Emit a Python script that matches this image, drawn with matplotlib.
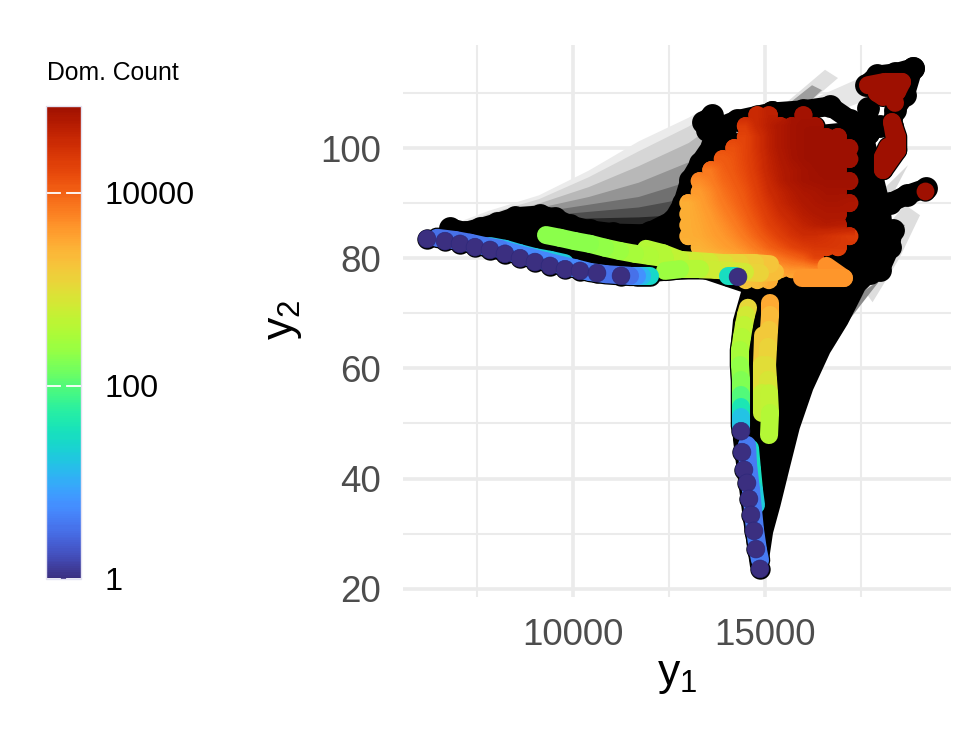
import numpy as np
import matplotlib
matplotlib.use('Agg')
import matplotlib.pyplot as plt
from matplotlib.collections import LineCollection
from matplotlib.colors import ListedColormap, LogNorm
from matplotlib.cm import ScalarMappable
from matplotlib.path import Path
from matplotlib.transforms import IdentityTransform

plt.rcParams['font.family'] = ['Liberation Sans', 'DejaVu Sans']
plt.rcParams['mathtext.fontset'] = 'custom'
plt.rcParams['mathtext.rm'] = 'Liberation Sans'
plt.rcParams['mathtext.it'] = 'Liberation Sans'

na = np.nan

# grey fan above the left arm, one row of tops per grey level
fan_x = [6500, 7800, 9100, 10400, 11700, 13000, 13700]
fan_bottom = [84, 84, 84, 84, 84, 84, 84]
fan_greys = [0.92, 0.84, 0.72, 0.58, 0.44, 0.3, 0.15]
fan_tops = [
    [85.3, 88.7, 91.5, 96.0, 101.3, 105.6, 108.3],
    [85.1, 88.2, 90.8, 94.8, 99.5, 104.0, 107.0],
    [85.0, 87.7, 90.0, 93.0, 96.8, 101.0, 104.5],
    [84.9, 87.2, 89.2, 91.2, 93.8, 97.5, 101.0],
    [84.7, 86.8, 88.4, 89.8, 91.2, 94.0, 98.0],
    [84.5, 86.5, 87.7, 88.5, 89.3, 91.0, 95.0],
    [84.3, 86.0, 87.0, 87.3, 87.5, 88.0, 92.0],
]

# other grey strips
strip_greys = [0.88, 0.62, 0.9, 0.87, 0.6, 0.3, 0.85, 0.55]
strip_x = [
    [15260, 16562, 16900, 15781],
    [15338, 16224, 16484, 15781],
    [16172, 17473, 17786, 16822],
    [18645, 19036, 18500, 17800, 17213],
    [18385, 18645, 18000, 17500, 17300],
    [18000, 18200, 17800, 17450, 17300],
    [17786, 18723, 18385, 17994],
    [17994, 17213, 16692, 17604],
]
strip_y = [
    [106.5, 114.2, 112.7, 106.0],
    [106.5, 111.4, 110.5, 106.0],
    [108.7, 112.7, 109.1, 106.5],
    [89.7, 87.8, 80.0, 72.0, 77.8],
    [86.9, 86.0, 79.0, 73.5, 77.0],
    [83.0, 82.0, 76.5, 73.5, 77.0],
    [90.5, 96.9, 92.4, 89.7],
    [76.0, 69.0, 62.8, 74.2],
]

# solid black area
black_x = [6537, 9141, 12786, 13177, 13828, 17734, 18255, 18333, 18255, 17864, 17604, 17150, 16692,
           16250, 15900, 15651, 15400, 15208, 15078, 14739, 14609, 14427, 14166, 14088, 14166,
           14375, 13307, 11745, 10443, 6406]
black_y = [84.6, 86.6, 86.0, 96.0, 102.4, 105.1, 90.0, 85.1, 82.0, 76.0, 74.2, 68.0, 62.8,
           56.1, 49.0, 42.1, 35.0, 30.1, 24.0, 22.5, 24.0, 32.5, 47.0, 62.8, 68.8,
           73.9, 76.4, 75.5, 76.0, 82.2]

# black chains along the edge of the cloud
edge_x = [
    [6797, 7188, 7578, 8021, 8490, 9141, 9531, 9922, 10443, 11042, 11562, 12005,
     12604, 12864, 13047, 13307, 13620, 13958],
    [13385, 13620, 13489, 13750, 14271, 15182],
    [15182, 15989, 16692, 17213, 17682, 18000],
    [17682, 17682],
    [18854, 18385, 17916, 17630],
    [18854, 18645, 18385, 18300],
    [19192, 18697, 18255, 17916],
    [18333, 18255, 17994, 17734, 17473],
    [17656, 17734, 17734],
]
edge_y = [
    [85.5, 84.8, 85.5, 86.4, 87.5, 87.8, 87.3, 86.0, 85.1, 84.6, 83.8, 84.8,
     86.9, 90.0, 94.2, 97.3, 100.5, 102.4],
    [104.7, 106.0, 103.3, 103.6, 105.1, 106.5],
    [106.5, 106.9, 107.6, 105.1, 102.7, 104.0],
    [107.3, 102.7],
    [114.5, 113.6, 113.2, 111.4],
    [114.5, 109.6, 106.9, 104.0],
    [92.7, 91.5, 90.0, 88.7],
    [85.1, 82.0, 77.9, 77.3, 78.8],
    [85.7, 91.1, 94.2],
]

# central cloud: log10 of the count on a grid
cloud_x = [13000, 13300, 13600, 13900, 14200, 14500, 14800, 15100,
           15400, 15700, 16000, 16300, 16600, 16900, 17200]
cloud_y = [106, 104, 102, 100, 98, 96, 94, 92, 90, 88, 86, 84, 82, 80, 78, 76]
cloud_log = [
    [na, na, na, na, na, na, 4.55, 4.65, na, na, 4.85, na, na, na, na],
    [na, na, na, na, na, 4.35, 4.55, 4.68, 4.78, 4.85, 4.88, 4.88, na, na, na],
    [na, na, na, na, na, 4.25, 4.45, 4.65, 4.78, 4.85, 4.88, 4.90, 4.90, 4.90, na],
    [na, na, na, na, 4.15, 4.25, 4.45, 4.65, 4.78, 4.85, 4.88, 4.90, 4.90, 4.90, 4.90],
    [na, na, na, 4.05, 4.12, 4.25, 4.42, 4.62, 4.75, 4.84, 4.88, 4.90, 4.90, 4.90, 4.90],
    [na, na, 3.85, 4.00, 4.10, 4.22, 4.40, 4.60, 4.72, 4.80, 4.85, 4.88, 4.90, 4.90, na],
    [na, 3.70, 3.80, 3.95, 4.05, 4.18, 4.35, 4.55, 4.70, 4.80, 4.85, 4.87, 4.88, 4.88, 4.88],
    [na, 3.60, 3.72, 3.88, 4.00, 4.12, 4.30, 4.50, 4.62, 4.72, 4.80, 4.82, 4.85, 4.85, na],
    [3.45, 3.55, 3.68, 3.82, 3.95, 4.08, 4.25, 4.42, 4.58, 4.68, 4.75, 4.80, 4.82, 4.82, 4.80],
    [3.45, 3.52, 3.62, 3.75, 3.88, 4.02, 4.18, 4.35, 4.50, 4.60, 4.70, 4.75, 4.78, 4.78, na],
    [3.45, 3.50, 3.58, 3.68, 3.80, 3.95, 4.10, 4.28, 4.40, 4.52, 4.62, 4.68, 4.72, 4.70, na],
    [3.45, 3.48, 3.55, 3.62, 3.72, 3.85, 4.00, 4.15, 4.30, 4.42, 4.50, 4.50, 4.45, 4.40, 4.35],
    [na, 3.42, 3.48, 3.55, 3.62, 3.72, 3.85, 4.00, 4.12, 4.25, 4.35, 4.40, 4.40, 4.38, na],
    [na, 3.35, 3.35, 3.40, 3.45, 3.55, 3.65, 3.75, 3.85, 3.95, 4.05, 4.25, na, na, na],
    [na, na, na, na, na, 3.30, 3.40, 3.50, 3.60, 3.65, 3.65, 3.70, 3.70, na, na],
    [na, na, na, na, na, 3.25, 3.30, 3.45, na, na, na, na, na, na, na],
]

# coloured trails: blue and teal of the left arm, green band, low band,
# left column, right column, spur, blue and teal of the lower arm, red clusters, orange wing
trail_x = [
    [6459, 6927, 7318, 7708, 8099, 8490, 8880, 9271, 9661, 10052, 10443, 10859, 11484, 11667],
    [7839, 8229, 8620, 9010, 9401, 9792],
    [11667, 11797, 12005],
    [9297, 9661, 10052, 10443, 10833, 11224, 11614, 12005, 12396, 12786, 13177, 13567,
     13958, 14349, 14739, 15130],
    [11901, 12344, 12786],
    [12396, 12786, 13307, 13698, 14479, 14870, 15260],
    [14036, 14218],
    [14375, 14375, 14375, 14375, 14375, 14349, 14349, 14401, 14453, 14505, 14557],
    [15104, 15130, 15104, 15078, 15052, 15078, 15104, 15130, 15130, 15130],
    [14922, 14922, 14922, 14950],
    [14531, 14557, 14635, 14687, 14739, 14817, 14870],
    [14609, 14661, 14713, 14765],
    [17682, 18124, 18567, 18437, 18072, 17916, 18203, 18385],
    [18307, 18437, 18437, 18203, 18072, 18072],
    [18307, 18437, 18072],
    [15950, 16400, 17050],
    [16600, 17050],
]
trail_y = [
    [83.7, 83.3, 82.8, 82.2, 81.7, 80.9, 80.2, 79.5, 78.8, 78.2, 77.5, 77.1, 76.8, 76.8],
    [82.2, 81.7, 80.9, 80.2, 79.7, 79.1],
    [76.8, 76.8, 76.8],
    [84.2, 83.7, 83.1, 82.6, 81.9, 81.3, 80.8, 80.4, 80.0, 79.7, 79.5, 79.3,
     79.1, 79.1, 79.1, 78.9],
    [81.7, 80.9, 79.7],
    [77.7, 78.0, 78.0, 77.9, 77.5, 77.3, 77.5],
    [76.8, 76.8],
    [49.5, 51.2, 53.0, 55.2, 57.9, 60.6, 63.3, 65.7, 67.9, 69.7, 71.0],
    [47.9, 51.9, 55.5, 57.9, 60.6, 63.9, 67.0, 69.7, 71.9, 71.9],
    [51.9, 55.5, 60.6, 66.0],
    [46.1, 42.5, 37.9, 34.3, 30.7, 27.0, 25.2],
    [45.5, 41.6, 37.9, 35.2],
    [111.4, 112.0, 112.0, 110.2, 109.3, 110.0, 111.4, 108.2],
    [104.7, 102.0, 99.6, 100.2, 98.4, 96.0],
    [104.7, 99.6, 96.0],
    [76.4, 76.4, 76.4],
    [78.6, 76.4],
]
# one value per segment
trail_log = [
    [.5, .5, .6, .6, .7, .7, .7, .7, .7, .7, .6, .5, .8],
    [1.2, 1.2, 1.2, 1.3, 1.3],
    [1.1, 1.4],
    [2.3, 2.3, 2.3, 2.35, 2.4, 2.5, 2.55, 2.6, 2.7, 2.8, 2.85, 2.95, 3.05, 3.15, 3.25],
    [2.6, 2.7],
    [2.4, 2.6, 2.8, 2.85, 3.1, 3.3],
    [1.5],
    [1.2, 1.6, 2.0, 2.25, 2.35, 2.5, 2.6, 2.7, 2.85, 3.05],
    [2.6, 2.7, 2.9, 3.0, 3.1, 3.2, 3.35, 3.5, 3.55],
    [2.75, 3.0, 3.2],
    [.6, .6, .6, .6, .6, .6],
    [1.5, 1.5, 1.3],
    [4.9, 4.9, 4.9, 4.9, 4.9, 4.9, 4.9],
    [4.9, 4.9, 4.9, 4.9, 4.9],
    [4.9, 4.9],
    [3.65, 3.65],
    [3.68],
]

# lone red point
dot_x = [19166]
dot_y = [92.2]
dot_count = [10 ** 4.9]

# points with a count of one
ones_x = [6198, 6667, 7057, 7448, 7839, 8229, 8620, 9010, 9401, 9792, 10182, 10625, 11250, 14297,
          14375, 14401, 14453, 14531, 14583, 14635, 14713, 14765, 14870]
ones_y = [83.5, 83.1, 82.6, 82.0, 81.5, 80.8, 80.0, 79.3, 78.6, 78.0, 77.7, 77.3, 76.8, 76.6,
          48.6, 44.8, 41.6, 39.2, 36.3, 33.4, 30.5, 27.2, 23.6]

x_major = [10000, 15000]
x_minor = [7500, 12500, 17500]
y_major = [20, 40, 60, 80, 100]
y_minor = [30, 50, 70, 90, 110]
legend_ticks = [1, 100, 10000]
legend_labels = ['1', '100', '10000']

# turbo without its darkest ends
cmap = ListedColormap(plt.get_cmap('turbo')(np.linspace(0.04, 0.955, 256)))
norm = LogNorm(1, 10 ** 4.9)

fig = plt.figure(figsize=(9.75, 7.5), dpi=100)
ax = fig.add_axes([403 / 975, 1 - 597 / 750, 548 / 975, 552 / 750])
for s in ax.spines.values():
    s.set_visible(False)
ax.set_axisbelow(True)
ax.set_xticks(x_major)
ax.set_xticks(x_minor, minor=True)
ax.set_yticks(y_major)
ax.set_yticks(y_minor, minor=True)
ax.set_xticklabels(['10000', '15000'])
ax.grid(which='major', color='#ebebeb', lw=2.6)
ax.grid(which='minor', color='#ebebeb', lw=1.5)
ax.tick_params(which='both', length=0)
ax.tick_params(axis='x', which='major', labelsize=26.5, labelcolor='#4D4D4D', pad=15)
ax.tick_params(axis='y', which='major', labelsize=26.5, labelcolor='#4D4D4D', pad=16)

for g, top in zip(fan_greys, fan_tops):
    ax.fill_between(fan_x, fan_bottom, top, color=str(g), lw=0, zorder=2)
for g, xs, ys in zip(strip_greys, strip_x, strip_y):
    ax.fill(xs, ys, color=str(g), lw=0, zorder=2)

# black layer
ax.fill(black_x, black_y, color='black', lw=0, zorder=3)
for xs, ys in zip(edge_x, edge_y):
    ax.plot(xs, ys, color='black', lw=14, solid_capstyle='round', solid_joinstyle='round', zorder=3)
    ax.scatter(xs, ys, s=270, c='black', lw=0, zorder=3)
for xs, ys in zip(trail_x, trail_y):
    ax.plot(xs, ys, color='black', lw=14.8, solid_capstyle='round', solid_joinstyle='round', zorder=3)
grid_x, grid_y = np.meshgrid(cloud_x, cloud_y)
grid_log = np.array(cloud_log)
keep = ~np.isnan(grid_log)
ax.scatter(grid_x[keep], grid_y[keep], s=215, c='black', lw=0, zorder=3)
ax.scatter(ones_x + dot_x, ones_y + dot_y, s=215, c='black', lw=0, zorder=3)

ax.set_xlim(5573, 19843)
ax.set_ylim(18.5, 118.7)

# cloud points, then the same table shaded smoothly and cut to their outline
ax.scatter(grid_x[keep], grid_y[keep], s=165, c=10 ** grid_log[keep], cmap=cmap, norm=norm, lw=0, zorder=4)
filled = grid_log.copy()
for row in filled:
    good = np.where(~np.isnan(row))[0]
    for j in np.where(np.isnan(row))[0]:
        row[j] = row[good[np.argmin(np.abs(good - j))]]
im = ax.imshow(filled, extent=[12850, 17350, 75, 107], origin='upper', aspect='auto',
               cmap=cmap, vmin=0, vmax=4.9, interpolation='bilinear', zorder=4)
ax.set_xlim(5573, 19843)
ax.set_ylim(18.5, 118.7)
centres = ax.transData.transform(np.column_stack([grid_x[keep], grid_y[keep]]))
outline = Path.make_compound_path(*[Path.circle(c, 9) for c in centres])
im.set_clip_path(outline, IdentityTransform())

# trails, high counts first so the low ones lie on top
segs, vals = [], []
for xs, ys, logs in zip(trail_x, trail_y, trail_log):
    for i, v in enumerate(logs):
        segs.append([(xs[i], ys[i]), (xs[i + 1], ys[i + 1])])
        vals.append(v)
order = np.argsort(-np.array(vals), kind='stable')
lc = LineCollection([segs[i] for i in order], array=10 ** np.array(vals)[order], cmap=cmap, norm=norm,
                    lw=13, capstyle='round', joinstyle='round', zorder=5)
ax.add_collection(lc)
ax.scatter(dot_x, dot_y, s=165, c=dot_count, cmap=cmap, norm=norm, lw=0, zorder=5)
ax.scatter(ones_x, ones_y, s=165, c=[1] * len(ones_x), cmap=cmap, norm=norm,
           edgecolors='#2b2778', lw=0.4, zorder=6)

fig.text(677 / 975, 1 - 675 / 750, r'$\mathrm{y}_1$', fontsize=32, ha='center', va='center')
fig.text(283 / 975, 1 - 320 / 750, r'$\mathrm{y}_2$', fontsize=32, ha='center', va='center',
         rotation=90)

# colour bar
cax = fig.add_axes([46 / 975, 1 - 579 / 750, 35 / 975, 473 / 750])
cb = fig.colorbar(ScalarMappable(norm=norm, cmap=cmap), cax=cax)
cb.minorticks_off()
cb.set_ticks(legend_ticks)
cb.set_ticklabels(legend_labels)
cb.ax.tick_params(length=0, labelsize=23.3, pad=17, labelcolor='black')
cb.outline.set_edgecolor('#e4e2f2')
cb.outline.set_linewidth(1)
for t in legend_ticks:
    cax.plot([0, 0.4], [t, t], color='white', lw=1.3, transform=cax.get_yaxis_transform(), clip_on=False)
    cax.plot([0.6, 1], [t, t], color='white', lw=1.3, transform=cax.get_yaxis_transform(), clip_on=False)
fig.text(47 / 975, 1 - 73 / 750, 'Dom. Count', fontsize=17.8, ha='left', va='center')

fig.savefig('out.png', dpi=100)
